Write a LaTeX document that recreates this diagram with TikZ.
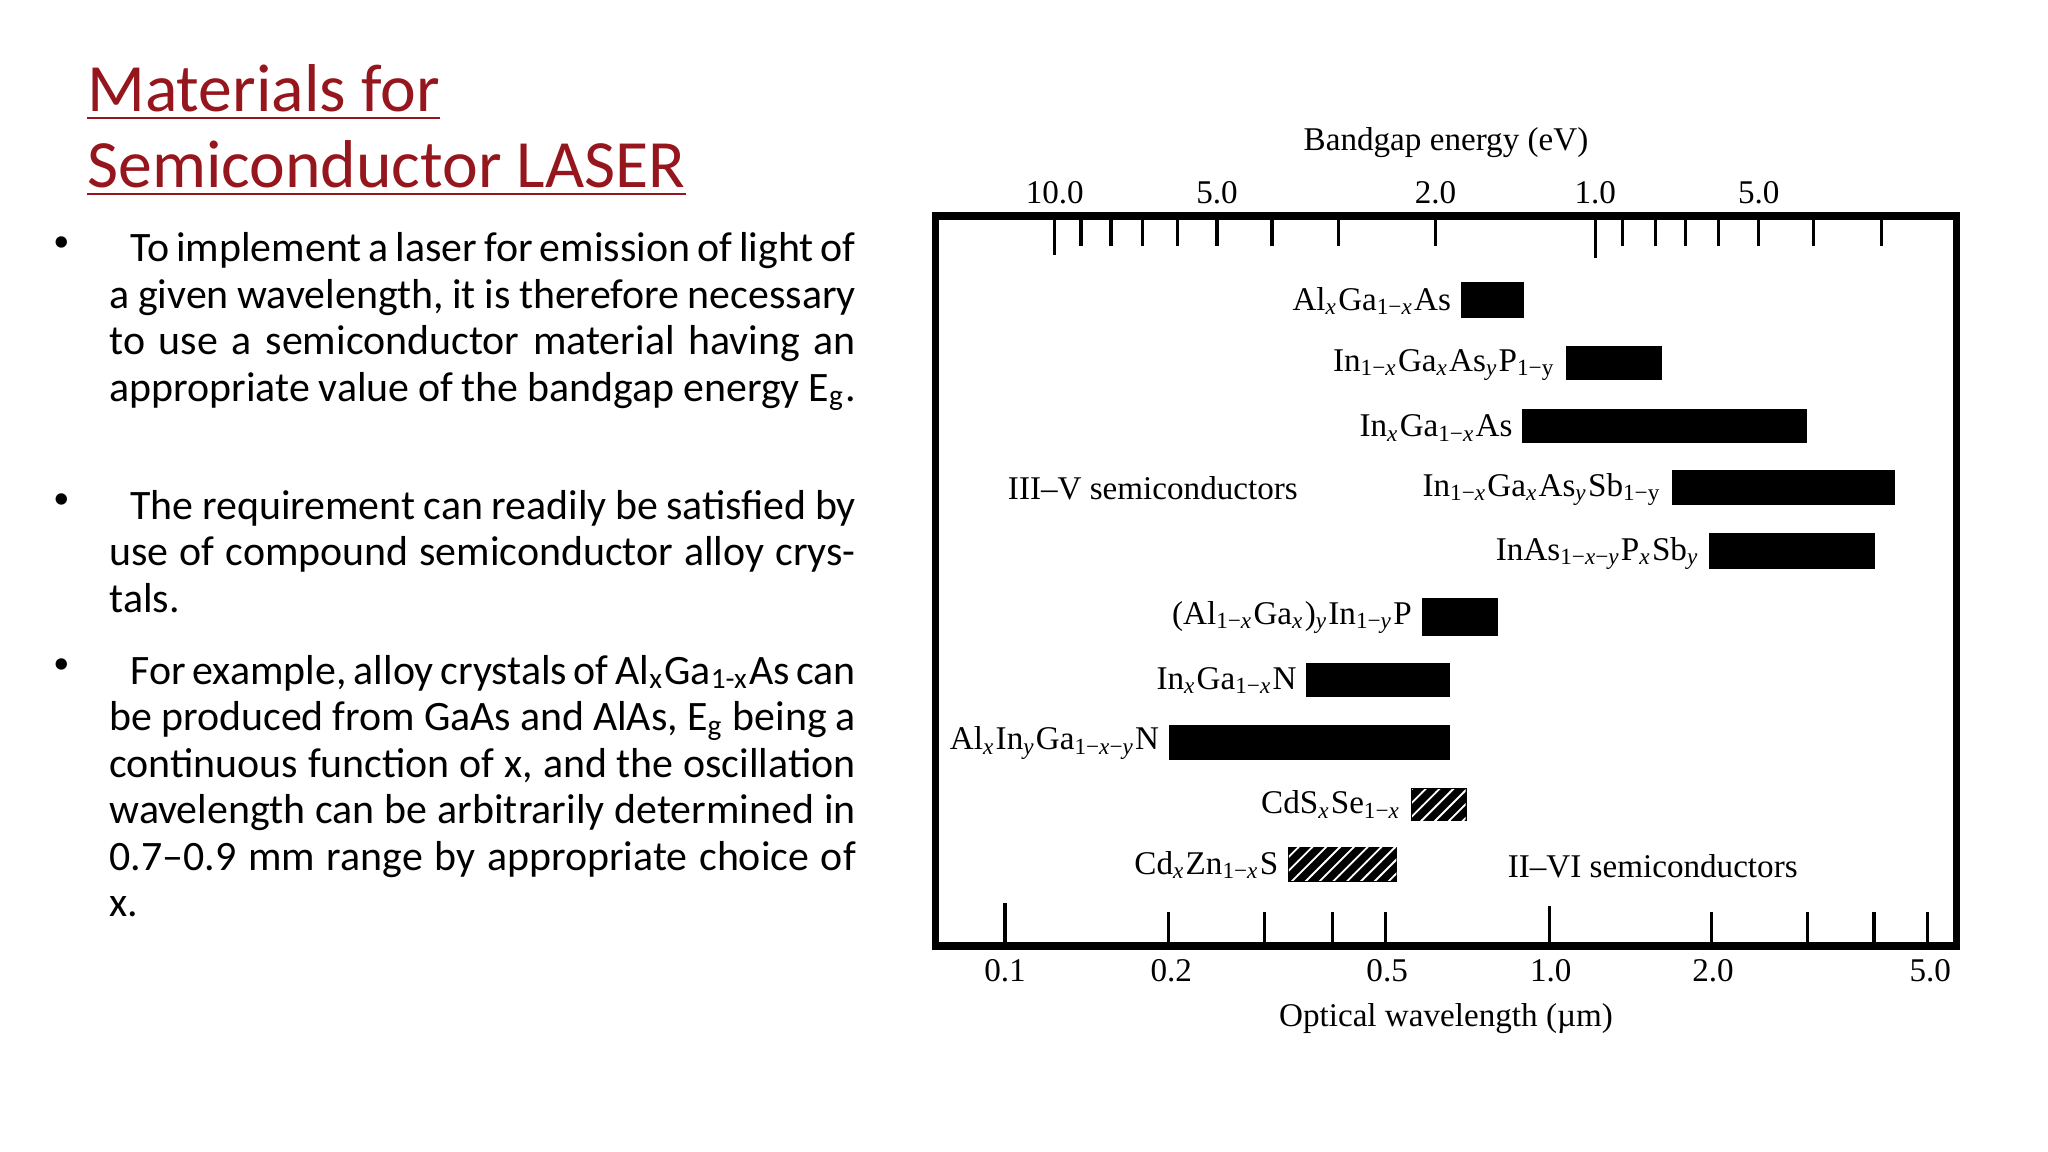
\documentclass[tikz,border=0pt]{standalone}
\usepackage{fontspec}
\setmainfont{Carlito}
\newfontfamily\gfont{Liberation Serif}
\usetikzlibrary{patterns}
\definecolor{titlered}{RGB}{150,22,30}
\newcommand\sbs[1]{\textsubscript{#1}}
\newcommand\ix{\textit{x}}
\newcommand\iy{\textit{y}}
\newcommand\nohy{\hyphenpenalty=10000\exhyphenpenalty=10000\relax}
\tikzset{
  bodytext/.style={anchor=north west,text width=5.7cm,align=justify,inner sep=0pt,font=\fontsize{9.1}{10.1}\selectfont},
  bul/.style={anchor=north west,inner sep=0pt,font=\fontsize{7}{10.1}\selectfont},
  glab/.style={font=\gfont\fontsize{7.2}{8}\selectfont,inner sep=1pt},
  bar/.style={fill=black},
  hbar/.style={fill=black,postaction={pattern=north east lines,pattern color=white}},
  tk/.style={line width=0.7pt},
}
\begin{document}
\begin{tikzpicture}[x=0.01cm,y=-0.01cm]
\useasboundingbox (0,0) rectangle (1565,880);
% title
\node[anchor=base west,inner sep=0pt,text=titlered,font=\fontsize{14.7}{16}\selectfont] (t1) at (66,85) {\underline{Materials for}};
\node[anchor=base west,inner sep=0pt,text=titlered,font=\fontsize{14.7}{16}\selectfont] (t2) at (66,143) {\underline{Semiconductor LASER}};
% bullets
\node[bul] (b1) at (40,180) {•};
\node[bodytext] (p1) at (83,177) {\nohy\hspace*{0.5em}To implement a laser for emission of light of a given wavelength, it is therefore necessary to use a semiconductor material having an appropriate value of the bandgap energy E\textsubscript{g}.};
\node[bul] (b2) at (40,377) {•};
\node[bodytext] (p2) at (83,374) {\nohy\hspace*{0.5em}The requirement can readily be satisfied by use of compound semiconductor alloy crystals.};
\node[bul] (b3) at (40,503) {•};
\node[bodytext] (p3) at (83,500) {\nohy\hspace*{0.5em}For example, alloy crystals of Al\textsubscript{x}Ga\textsubscript{1-x}As can be produced from GaAs and AlAs, E\textsubscript{g} being a continuous function of x, and the oscillation wavelength can be arbitrarily determined in 0.7–0.9 mm range by appropriate choice of x.};
% graph frame
\draw[line width=1.6pt] (715,165) rectangle (1495,723);
% top ticks
\foreach \x/\l in {806/195,826/188,849/188,873/188,900/188,930/188,972/188,1023/188,1097/188,1219/197,1240/188,1265/188,1288/188,1313/188,1344/188,1386/188,1438/188}
  \draw[tk] (\x,165) -- (\x,\l);
\foreach \x/\t in {806/10.0,930/5.0,1097/2.0,1219/1.0,1344/5.0}
  \node[glab] at (\x,147) {\t};
\node[glab] (bg) at (1105,109) {Bandgap energy (eV)};
% bottom ticks
\foreach \x/\l in {768/690,893/697,966/697,1018/697,1059/697,1184/692,1308/697,1381/697,1432/697,1473/697}
  \draw[tk] (\x,723) -- (\x,\l);
\foreach \x/\t in {768/0.1,895/0.2,1060/0.5,1185/1.0,1309/2.0,1475/5.0}
  \node[glab] at (\x,742) {\t};
\node[glab] (ow) at (1105,778) {Optical wavelength (µm)};
% bars
\draw[bar] (1117,216) rectangle (1164,242);
\node[glab,anchor=east] at (1113,230) {Al\sbs{\ix}Ga\sbs{1−\ix}As};
\draw[bar] (1197,265) rectangle (1269,290);
\node[glab,anchor=east] at (1193,279) {In\sbs{1−\ix}Ga\sbs{\ix}As\sbs{\iy}P\sbs{1−y}};
\draw[bar] (1164,313) rectangle (1380,338);
\node[glab,anchor=east] at (1160,327) {In\sbs{\ix}Ga\sbs{1−\ix}As};
\draw[bar] (1278,360) rectangle (1447,385);
\node[glab,anchor=east] at (1274,374) {In\sbs{1−\ix}Ga\sbs{\ix}As\sbs{\iy}Sb\sbs{1−y}};
\draw[bar] (1307,408) rectangle (1432,434);
\node[glab,anchor=east] at (1303,423) {InAs\sbs{1−\ix−\iy}P\sbs{\ix}Sb\sbs{\iy}};
\draw[bar] (1087,458) rectangle (1144,485);
\node[glab,anchor=east] at (1083,472) {(Al\sbs{1−\ix}Ga\sbs{\ix})\sbs{\iy}In\sbs{1−\iy}P};
\draw[bar] (999,507) rectangle (1107,532);
\node[glab,anchor=east] at (995,520) {In\sbs{\ix}Ga\sbs{1−\ix}N};
\draw[bar] (894,555) rectangle (1107,580);
\node[glab,anchor=east] at (890,568) {Al\sbs{\ix}In\sbs{\iy}Ga\sbs{1−\ix−\iy}N};
\draw[hbar] (1079,603) rectangle (1120,627);
\node[glab,anchor=east] at (1075,615) {CdS\sbs{\ix}Se\sbs{1−\ix}};
\draw[hbar] (985,648) rectangle (1067,673);
\node[glab,anchor=east] at (981,661) {Cd\sbs{\ix}Zn\sbs{1−\ix}S};
\node[glab] (g35) at (881,373) {III–V semiconductors};
\node[glab,anchor=west] (g26) at (1148,662) {II–VI semiconductors};
\end{tikzpicture}
\end{document}
